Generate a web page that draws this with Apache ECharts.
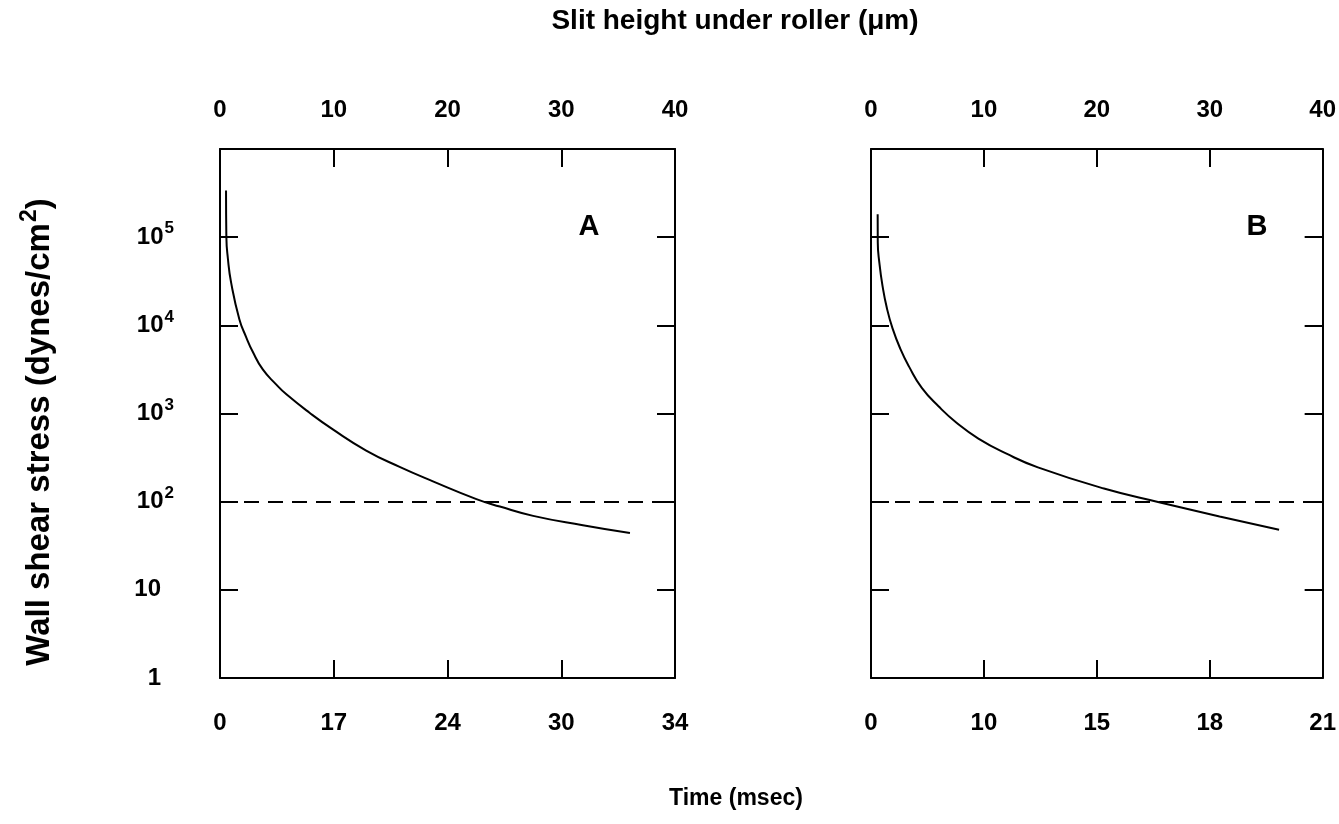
<!DOCTYPE html>
<html>
<head>
<meta charset="utf-8">
<script src="https://cdn.jsdelivr.net/npm/echarts@6/dist/echarts.min.js"></script>
<style>
  html, body { margin: 0; padding: 0; background: #fff; }
  #chart { width: 1339px; height: 824px; }
</style>
</head>
<body>
<div id="chart"></div>
<script>
// slit height (um) vs wall shear stress (dynes/cm2)
var slitA = [0.53, 0.56, 0.7, 0.97, 1.7, 2.29, 2.88, 3.76, 4.93, 5.81, 7.87, 9.92, 12.85, 15.79, 18.72, 22.54, 24.6, 27.53, 31.9, 36.04]
var stressA = [339000, 100000, 56200, 30900, 11750, 7410, 5010, 3160, 2140, 1660, 1020, 660, 380, 248, 170, 107, 88, 69, 54, 44]

var slitB = [0.59, 0.6, 0.75, 1.02, 1.4, 1.9, 2.6, 3.37, 4.5, 6.0, 7.6, 9.51, 12.0, 14.78, 20.63, 25.6, 30.87, 36.14]
var stressB = [182000, 87000, 50000, 28000, 15800, 9300, 5400, 3400, 1950, 1200, 780, 520, 350, 245, 141, 98, 68, 48]

var thresholdStress = 100

// tick labels
var slitTicks = ['0', '10', '20', '30', '40']
var timeLabelsA = ['0', '17', '24', '30', '34']
var timeLabelsB = ['0', '10', '15', '18', '21']
var stressBase = ['1', '10', '10', '10', '10', '10']
var stressExp = ['', '', '2', '3', '4', '5']

var FONT = 'Liberation Sans, Arial, sans-serif'

function zip(xs, ys) {
    return xs.map(function (x, i) { return [x, ys[i]] })
}

function stressLabel(v) {
    var e = Math.round(Math.log10(v))
    if (e < 0 || e >= stressBase.length) return ''
    if (stressExp[e]) return '{b|' + stressBase[e] + '}{s|' + stressExp[e] + '}'
    return '{b|' + stressBase[e] + '}{p|}'
}

function axisLine() {
    return { show: true, onZero: false, lineStyle: { color: '#000', width: 2 } }
}

function axisTick() {
    return { show: true, inside: true, length: 18, lineStyle: { color: '#000', width: 2 } }
}

function getXAxes(gridIndex, timeLabels) {
    var label = { color: '#000', fontFamily: FONT, fontWeight: 'bold', fontSize: 24 }
    return [
        {
            type: 'value', gridIndex: gridIndex, position: 'bottom',
            min: 0, max: 40, interval: 10,
            axisLine: axisLine(), axisTick: axisTick(), splitLine: { show: false },
            axisLabel: Object.assign({}, label, {
                margin: 33,
                formatter: function (v) { return timeLabels[Math.round(v / 10)] }
            })
        },
        {
            type: 'value', gridIndex: gridIndex, position: 'top',
            min: 0, max: 40, interval: 10,
            axisLine: axisLine(), axisTick: axisTick(), splitLine: { show: false },
            axisLabel: Object.assign({}, label, {
                margin: 27,
                formatter: function (v) { return slitTicks[Math.round(v / 10)] }
            })
        }
    ]
}

function getYAxes(gridIndex, showLabels) {
    return [
        {
            type: 'log', logBase: 10, gridIndex: gridIndex, position: 'left',
            min: 1, max: 1000000, interval: 1,
            axisLine: axisLine(), axisTick: axisTick(), splitLine: { show: false },
            axisLabel: {
                show: showLabels, margin: 46, align: 'right',
                formatter: stressLabel,
                rich: {
                    b: { color: '#000', fontFamily: FONT, fontWeight: 'bold', fontSize: 24 },
                    s: { color: '#000', fontFamily: FONT, fontWeight: 'bold', fontSize: 17, padding: [0, 0, 17, 1] },
                    p: { width: 13 }
                }
            }
        },
        {
            type: 'log', logBase: 10, gridIndex: gridIndex, position: 'right',
            min: 1, max: 1000000, interval: 1,
            axisLine: axisLine(), axisTick: axisTick(), splitLine: { show: false },
            axisLabel: { show: false }
        }
    ]
}

function getCurve(gridIndex, data) {
    return {
        type: 'line',
        xAxisIndex: gridIndex * 2, yAxisIndex: gridIndex * 2,
        data: data, smooth: 0.5, showSymbol: false, silent: true,
        lineStyle: { color: '#000', width: 2 },
        markLine: {
            silent: true, symbol: 'none',
            label: { show: false },
            lineStyle: { color: '#000', width: 2, type: [15, 9] },
            data: [{ yAxis: thresholdStress }]
        }
    }
}

var titleStyle = { fill: '#000', fontFamily: FONT, fontWeight: 'bold' }

var option = {
    animation: false,
    backgroundColor: '#fff',
    grid: [
        { left: 220, top: 149, width: 455, height: 529 },
        { left: 871, top: 149, width: 455, height: 529 }
    ],
    xAxis: getXAxes(0, timeLabelsA).concat(getXAxes(1, timeLabelsB)),
    yAxis: getYAxes(0, true).concat(getYAxes(1, false)),
    series: [
        getCurve(0, zip(slitA, stressA)),
        getCurve(1, zip(slitB, stressB))
    ],
    graphic: [
        {
            type: 'text', x: 735, y: 21,
            style: Object.assign({ text: 'Slit height under roller (\u03bcm)', align: 'center', verticalAlign: 'middle', fontSize: 28 }, titleStyle)
        },
        {
            type: 'text', x: 736, y: 799,
            style: Object.assign({ text: 'Time (msec)', align: 'center', verticalAlign: 'middle', fontSize: 23 }, titleStyle)
        },
        {
            type: 'text', x: 40, y: 432, rotation: Math.PI / 2,
            style: {
                text: '{t|Wall shear stress (dynes/cm}{s|2}{t|)}',
                align: 'center', verticalAlign: 'middle',
                rich: {
                    t: { fill: '#000', fontFamily: FONT, fontWeight: 'bold', fontSize: 33 },
                    s: { fill: '#000', fontFamily: FONT, fontWeight: 'bold', fontSize: 23, padding: [0, 0, 21, 1] }
                }
            }
        },
        {
            type: 'text', x: 589, y: 227,
            style: Object.assign({ text: 'A', align: 'center', verticalAlign: 'middle', fontSize: 29 }, titleStyle)
        },
        {
            type: 'text', x: 1257, y: 227,
            style: Object.assign({ text: 'B', align: 'center', verticalAlign: 'middle', fontSize: 29 }, titleStyle)
        }
    ]
}

var chart = echarts.init(document.getElementById('chart'))
chart.setOption(option)
</script>
</body>
</html>
